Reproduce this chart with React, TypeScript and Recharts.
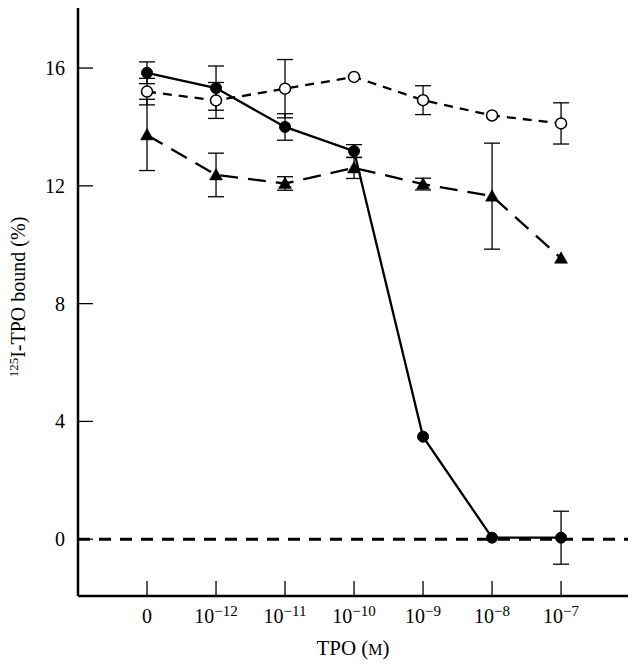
import React from 'react';
import { ComposedChart, Line, XAxis, YAxis, ErrorBar, ReferenceLine, Label } from 'recharts';

const categories = [0, 1, 2, 3, 4, 5, 6];
const tickExponents = ['', '−12', '−11', '−10', '−9', '−8', '−7'];
const yTicks = [0, 4, 8, 12, 16];

const filledValues = [15.84, 15.32, 14.0, 13.18, 3.48, 0.05, 0.05];
const filledErrors = [0.37, 0.75, 0.45, 0.22, 0, 0, 0.9];

const openValues = [15.2, 14.9, 15.3, 15.7, 14.91, 14.39, 14.12];
const openErrors = [0.45, 0.61, 0.99, 0, 0.49, 0, 0.7];

const triangleValues = [13.73, 12.37, 12.08, 12.61, 12.06, 11.65, 9.54];
const triangleErrors = [1.21, 0.74, 0.23, 0.36, 0.2, 1.8, 0];

const data = categories.map((x, i) => ({
  x,
  filled: filledValues[i],
  filledErr: filledErrors[i],
  open: openValues[i],
  openErr: openErrors[i],
  tri: triangleValues[i],
  triErr: triangleErrors[i],
}));

const FONT = '"Liberation Serif", "DejaVu Serif", serif';

const XTick = (props: any) => {
  const { x, y, payload } = props;
  const exp = tickExponents[payload.value];
  return (
    <text x={x} y={y} dy="0.71em" textAnchor="middle" fontFamily={FONT} fontSize={20} fill="#000">
      {exp ? (
        <>
          10<tspan dy={-7} fontSize={15}>{exp}</tspan>
        </>
      ) : (
        '0'
      )}
    </text>
  );
};

const TriangleDot = (props: any) => {
  const { cx, cy, index } = props;
  if (cx == null || cy == null) return <g key={`t${index}`} />;
  return (
    <polygon
      key={`t${index}`}
      points={`${cx},${cy - 6.5} ${cx + 6.5},${cy + 5} ${cx - 6.5},${cy + 5}`}
      fill="#000"
      stroke="#000"
      strokeWidth={0.5}
    />
  );
};

export default function App() {
  return (
    <div style={{ position: 'absolute', left: 0, top: 0, background: '#fff' }}>
      <ComposedChart
        width={635}
        height={668}
        data={data}
        margin={{ top: 8, right: 7, bottom: 0, left: 0 }}
      >
        <XAxis
          dataKey="x"
          type="number"
          domain={[-1, 6.97]}
          ticks={categories}
          height={72}
          tickSize={-15}
          tickMargin={28}
          tick={<XTick />}
          axisLine={{ stroke: '#000', strokeWidth: 2.5 }}
          tickLine={{ stroke: '#000', strokeWidth: 1.3 }}
          allowDataOverflow
          interval={0}
        >
          <Label
            content={(p: any) => {
              const vb = p.viewBox || { x: 78, y: 596, width: 550, height: 72 };
              const cx = vb.x + vb.width / 2;
              return (
                <text x={cx} y={vb.y + 59} textAnchor="middle" fontFamily={FONT} fontSize={21} fill="#000">
                  TPO (<tspan fontSize={16}>M</tspan>)
                </text>
              );
            }}
          />
        </XAxis>
        <YAxis
          type="number"
          domain={[-1.93, 18.04]}
          ticks={yTicks}
          width={78}
          tickSize={-15}
          tickMargin={28}
          tick={{ fontFamily: FONT, fontSize: 20, fill: '#000' }}
          axisLine={{ stroke: '#000', strokeWidth: 2.5 }}
          tickLine={{ stroke: '#000', strokeWidth: 1.3 }}
          allowDataOverflow
          interval={0}
        >
          <Label
            content={() => {
              const cx = 25;
              const cy = 297;
              return (
                <text
                  x={cx}
                  y={cy}
                  transform={`rotate(-90 ${cx} ${cy})`}
                  textAnchor="middle"
                  fontFamily={FONT}
                  fontSize={20}
                  fill="#000"
                >
                  <tspan fontSize={13} dy={-7}>125</tspan>
                  <tspan dy={7}>I-TPO bound (%)</tspan>
                </text>
              );
            }}
          />
        </YAxis>
        <ReferenceLine y={0} stroke="#000" strokeWidth={3} strokeDasharray="12 9" ifOverflow="extendDomain" />
        <Line
          dataKey="tri"
          stroke="#000"
          strokeWidth={2.3}
          strokeDasharray="18 10"
          isAnimationActive={false}
          dot={TriangleDot}
          activeDot={false}
        >
          <ErrorBar dataKey="triErr" direction="y" width={8} stroke="#000" strokeWidth={1.3} />
        </Line>
        <Line
          dataKey="open"
          stroke="#000"
          strokeWidth={2.3}
          strokeDasharray="9 7"
          isAnimationActive={false}
          dot={{ r: 5.5, fill: '#fff', stroke: '#000', strokeWidth: 1.5, strokeDasharray: '' }}
          activeDot={false}
        >
          <ErrorBar dataKey="openErr" direction="y" width={8} stroke="#000" strokeWidth={1.3} />
        </Line>
        <Line
          dataKey="filled"
          stroke="#000"
          strokeWidth={2.3}
          isAnimationActive={false}
          dot={{ r: 5.5, fill: '#000', stroke: '#000', strokeWidth: 1 }}
          activeDot={false}
        >
          <ErrorBar dataKey="filledErr" direction="y" width={8} stroke="#000" strokeWidth={1.3} />
        </Line>
      </ComposedChart>
    </div>
  );
}
